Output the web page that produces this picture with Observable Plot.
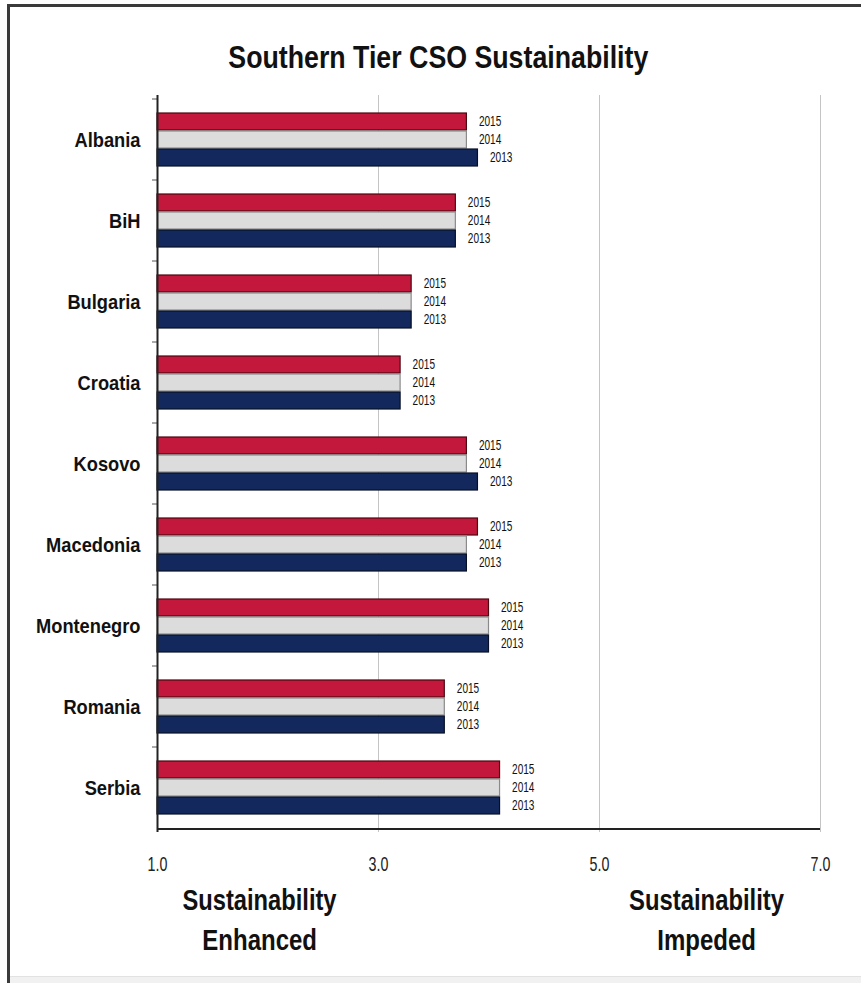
<!DOCTYPE html>
<html>
<head>
<meta charset="utf-8">
<script src="https://cdn.jsdelivr.net/npm/d3@7"></script>
<script src="https://cdn.jsdelivr.net/npm/@observablehq/plot@0.6"></script>
<style>
  html, body { margin: 0; padding: 0; background: #fff; }
  #wrap { position: relative; width: 861px; height: 983px; overflow: hidden; background: #fff;
          font-family: "Liberation Sans", Arial, sans-serif; }
  #border { position: absolute; left: 7px; top: 4px; width: 900px; height: 1000px;
            border-left: 3px solid #3a3a3a; border-top: 3px solid #3a3a3a; }
  #bottomstrip { position: absolute; left: 10px; top: 976px; width: 851px; height: 7px; background: #f1f1f1; border-top: 1px solid #e2e2e2; }
  .fit { position: absolute; text-align: center; font-weight: bold; color: #111; white-space: nowrap; }
  .fit span { display: inline-block; transform-origin: center center; }
  #title { top: 37px; font-size: 32px; line-height: 40px; }
  .foot { font-size: 30px; line-height: 40px; }
  #chart { position: absolute; left: 0; top: 90px; }
</style>
</head>
<body>
<div id="wrap">
  <div id="border"></div>
  <div id="bottomstrip"></div>
  <div id="chart"></div>
  <div id="title" class="fit" data-w="420" style="left:0px; width:876px;"><span>Southern Tier CSO Sustainability</span></div>
  <div class="fit foot" data-w="154" style="left:60px; width:400px; top:880px;"><span>Sustainability</span></div>
  <div class="fit foot" data-w="0.8" style="left:60px; width:400px; top:920px;"><span>Enhanced</span></div>
  <div class="fit foot" data-w="155" style="left:507px; width:400px; top:880px;"><span>Sustainability</span></div>
  <div class="fit foot" data-w="0.8" style="left:507px; width:400px; top:920px;"><span>Impeded</span></div>
</div>
<script>
const countries = ["Albania", "BiH", "Bulgaria", "Croatia", "Kosovo", "Macedonia", "Montenegro", "Romania", "Serbia"];
const years = ["2015", "2014", "2013"];
const values2015 = [3.8, 3.7, 3.3, 3.2, 3.8, 3.9, 4.0, 3.6, 4.1];
const values2014 = [3.8, 3.7, 3.3, 3.2, 3.8, 3.8, 4.0, 3.6, 4.1];
const values2013 = [3.9, 3.7, 3.3, 3.2, 3.9, 3.8, 4.0, 3.6, 4.1];
const xTicks = [1, 3, 5, 7];
const xBase = 1;
const xMax = 7;

const seriesValues = {"2015": values2015, "2014": values2014, "2013": values2013};
const rows = years.flatMap(year => countries.map((country, i) => ({country, year, value: seriesValues[year][i]})));

const style = {
  "2015": {fill: "#c3183b", stroke: "#4d0812", dy: -18},
  "2014": {fill: "#dcdcdc", stroke: "#8a8a8a", dy: 0},
  "2013": {fill: "#13295e", stroke: "#070f26", dy: 18}
};
const font = "'Liberation Sans', Arial, sans-serif";

const marks = [
  Plot.gridX(xTicks.slice(1), {stroke: "#c4c4c4", strokeOpacity: 1}),
];
for (const year of years) {
  const data = rows.filter(d => d.year === year);
  const s = style[year];
  marks.push(Plot.barX(data, {
    x1: () => xBase, x2: "value", y: "country", dy: s.dy,
    insetTop: 32, insetBottom: 32, fill: s.fill, stroke: s.stroke, strokeWidth: 1.2
  }));
  marks.push(Plot.text(data, {
    x: "value", y: "country", dy: s.dy, dx: 12, text: "year", textAnchor: "start",
    fontSize: 14, fontFamily: font, fill: "#111"
  }));
}
marks.push(
  Plot.axisY({tickSize: 0, tickPadding: 17, fontSize: 21, fontWeight: "bold", fontFamily: font, color: "#111"}),
  Plot.axisY({tickSize: 6, text: null, dy: -41, dx: 1, stroke: "#555"}),
  Plot.axisX({ticks: xTicks, tickSize: 0, tickPadding: 24, tickFormat: d => d.toFixed(1), fontSize: 21, fontFamily: font, color: "#222"}),
  Plot.ruleX([xBase], {stroke: "#222", strokeWidth: 2}),
  Plot.ruleY(countries.slice(-1), {y: d => d, dy: 41, x1: () => xBase, x2: () => xMax, stroke: "#222", strokeWidth: 2})
);

const chart = Plot.plot({
  width: 861,
  height: 800,
  marginTop: 5,
  marginLeft: 157,
  marginRight: 41,
  marginBottom: 58,
  x: {domain: [xBase, xMax], label: null},
  y: {domain: countries, padding: 0, label: null},
  marks
});
document.getElementById("chart").appendChild(chart);

// condense SVG texts horizontally (the reference uses a narrow face)
function condense(selector, k) {
  d3.select(chart).selectAll(selector).each(function () {
    const t = this.getAttribute("transform");
    if (t) this.setAttribute("transform", t + ` scale(${k},1)`);
    else {
      const x = +this.getAttribute("x") || 0, y = +this.getAttribute("y") || 0;
      this.removeAttribute("x"); this.removeAttribute("y");
      this.setAttribute("transform", `translate(${x},${y}) scale(${k},1)`);
    }
  });
}
condense('g[aria-label="text"] text', 0.72);
condense('g[aria-label="y-axis tick label"] text', 0.87);
condense('g[aria-label="x-axis tick label"] text', 0.68);

// fit heading texts to the reference widths with a horizontal condense
document.querySelectorAll(".fit").forEach(div => {
  const span = div.querySelector("span");
  const w = +div.dataset.w;
  const actual = span.getBoundingClientRect().width;
  const k = w < 5 ? w : w / actual;
  span.style.transform = `scaleX(${k})`;
});
</script>
</body>
</html>
